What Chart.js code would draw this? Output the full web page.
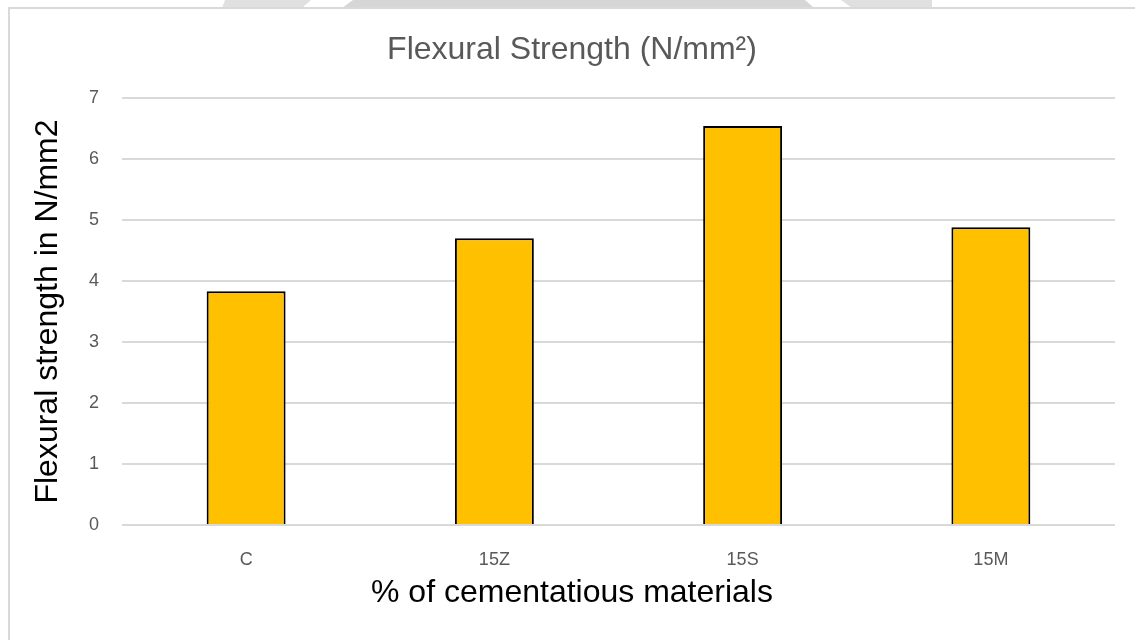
<!DOCTYPE html>
<html>
<head>
<meta charset="utf-8">
<script src="https://cdn.jsdelivr.net/npm/chart.js@4.4.0/dist/chart.umd.min.js"></script>
<style>
  html, body { margin: 0; padding: 0; background: #ffffff; }
  #wrap { width: 1135px; height: 640px; position: relative; }
</style>
</head>
<body>
<div id="wrap"><canvas id="chart"></canvas></div>
<script>
// Flexural strength per mix
const categories = ['C', '15Z', '15S', '15M'];
const strengthValues = [3.83, 4.70, 6.54, 4.88];
const yTicks = [0, 1, 2, 3, 4, 5, 6, 7];

const chartTitle = 'Flexural Strength (N/mm\u00B2)';
const yTitle = 'Flexural strength in N/mm2';
const xTitle = '% of cementatious materials';

// Frame lines and the grey bands along the top edge of the figure
const framePlugin = {
  id: 'frame',
  beforeDraw(chart) {
    const ctx = chart.ctx;
    ctx.save();
    ctx.fillStyle = '#ffffff';
    ctx.fillRect(0, 0, chart.width, chart.height);
    ctx.fillStyle = '#e0e0e0';
    ctx.beginPath();
    ctx.moveTo(225, 0); ctx.lineTo(311, 0); ctx.lineTo(302, 8); ctx.lineTo(222, 8); ctx.closePath();
    ctx.fill();
    ctx.fillStyle = '#d6d6d6';
    ctx.beginPath();
    ctx.moveTo(353, 0); ctx.lineTo(805, 0); ctx.lineTo(814, 8); ctx.lineTo(342, 8); ctx.closePath();
    ctx.fill();
    ctx.fillStyle = '#e0e0e0';
    ctx.beginPath();
    ctx.moveTo(841, 0); ctx.lineTo(932, 0); ctx.lineTo(932, 8); ctx.lineTo(852, 8); ctx.closePath();
    ctx.fill();
    ctx.fillStyle = '#d9d9d9';
    ctx.fillRect(8, 7, chart.width - 8, 2);
    ctx.fillRect(8, 7, 2, chart.height - 7);
    ctx.restore();
  }
};

const ctx = document.getElementById('chart').getContext('2d');
new Chart(ctx, {
  type: 'bar',
  data: {
    labels: categories,
    datasets: [{
      label: 'Flexural strength',
      data: strengthValues,
      backgroundColor: '#ffc000',
      borderColor: '#000000',
      borderWidth: 2,
      borderSkipped: 'start',
      barPercentage: 0.318,
      categoryPercentage: 1.0
    }]
  },
  options: {
    responsive: true,
    maintainAspectRatio: false,
    animation: false,
    devicePixelRatio: 1,
    layout: { padding: { left: 29, right: 20, top: 0, bottom: 27.8 } },
    plugins: {
      legend: { display: false },
      tooltip: { enabled: false },
      title: {
        display: true,
        text: chartTitle,
        color: '#595959',
        font: { family: 'Liberation Sans, Arial, sans-serif', size: 32, weight: 'normal' },
        padding: { top: 30.5, bottom: 29.1 }
      },
      subtitle: {
        display: true,
        position: 'bottom',
        text: xTitle,
        color: '#000000',
        font: { family: 'Liberation Sans, Arial, sans-serif', size: 32, weight: 'normal' },
        padding: { top: 0, bottom: 0 }
      }
    },
    scales: {
      x: {
        afterFit(scale) { scale.height = 48.8; },
        grid: { display: false, drawTicks: false },
        border: { display: false },
        ticks: {
          color: '#595959',
          font: { family: 'Liberation Sans, Arial, sans-serif', size: 18 },
          padding: 24,
          maxRotation: 0
        }
      },
      y: {
        min: 0,
        max: 7,
        afterBuildTicks(scale) { scale.ticks = yTicks.map(v => ({ value: v })); },
        afterFit(scale) { scale.width = 93; },
        grid: { color: '#d9d9d9', lineWidth: 2, drawTicks: false },
        border: { display: false },
        ticks: {
          color: '#595959',
          font: { family: 'Liberation Sans, Arial, sans-serif', size: 18 },
          padding: 23
        },
        title: {
          display: true,
          text: yTitle,
          color: '#000000',
          font: { family: 'Liberation Sans, Arial, sans-serif', size: 32 },
          padding: { top: 0, bottom: 0 }
        }
      }
    }
  },
  plugins: [framePlugin]
});
</script>
</body>
</html>
